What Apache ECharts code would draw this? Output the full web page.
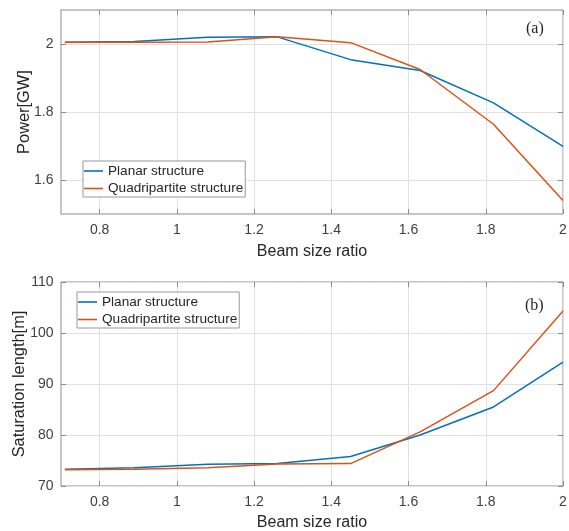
<!DOCTYPE html>
<html>
<head>
<meta charset="utf-8">
<script src="https://cdn.jsdelivr.net/npm/echarts@6/dist/echarts.min.js"></script>
<style>
html,body{margin:0;padding:0;background:#fff;}
#chart{width:569px;height:531px;}
</style>
</head>
<body>
<div id="chart"></div>
<script>
// ---- data ----
const beamRatio = [0.71, 0.89, 1.08, 1.26, 1.45, 1.63, 1.82, 2.0];
const planarPower = [2.005, 2.007, 2.020, 2.021, 1.954, 1.922, 1.827, 1.699];
const quadPower = [2.005, 2.005, 2.006, 2.021, 2.004, 1.925, 1.764, 1.540];
const planarLength = [73.3, 73.6, 74.25, 74.4, 75.8, 80.0, 85.5, 94.3];
const quadLength = [73.2, 73.3, 73.6, 74.3, 74.4, 80.6, 88.7, 104.3];
const xTicks = [0.8, 1.0, 1.2, 1.4, 1.6, 1.8, 2.0];
const powerTicks = [1.6, 1.8, 2.0];
const lengthTicks = [70, 80, 90, 100, 110];
const seriesNames = ['Planar structure', 'Quadripartite structure'];
const panelLabels = ['(a)', '(b)'];
const xName = 'Beam size ratio';
const yNames = ['Power[GW]', 'Saturation length[m]'];

const pairs = (xs, ys) => xs.map((x, i) => [x, ys[i]]);
const fmt = v => String(+(+v).toFixed(2));

const FONT = "'Liberation Sans', Arial, Helvetica, sans-serif";
const AX = '#8c8c8c';
const TXT = '#262626';
const TICK = '#404040';
const MAJ = '#dedede';
const MIN = '#e6e6e6';
const BLUE = '#0072BD';
const ORANGE = '#D95319';

const grids = [
  {left: 61, right: 6, top: 10, height: 204},
  {left: 61, right: 6, top: 282, height: 204}
];

function mainX(gi, gap) {
  return {
    type: 'value', gridIndex: gi, position: 'bottom', min: 0.7, max: 2,
    name: xName, nameLocation: 'middle', nameGap: gap, nameMoveOverlap: false,
    nameTextStyle: {fontFamily: FONT, fontSize: 16, color: TXT},
    axisLine: {show: false},
    axisTick: {show: true, inside: true, length: 5, lineStyle: {color: AX}, customValues: xTicks},
    axisLabel: {show: true, customValues: xTicks, formatter: fmt, fontFamily: FONT, fontSize: 14, color: TICK, margin: 9},
    splitLine: {show: true, lineStyle: {color: MAJ, width: 1}}
  };
}
function topX(gi) {
  return {
    type: 'value', gridIndex: gi, position: 'top', min: 0.7, max: 2, interval: 0.05,
    axisLine: {show: false},
    axisTick: {show: true, inside: true, length: 5, lineStyle: {color: AX}, customValues: xTicks},
    axisLabel: {show: false},
    splitLine: {show: true, lineStyle: {color: MIN, width: 1, type: [1, 2]}}
  };
}
function legendAt(left, top) {
  return {
    left: left, top: top, orient: 'vertical', data: seriesNames, icon: 'rect',
    backgroundColor: '#fff', borderColor: '#999', borderWidth: 1, borderRadius: 0,
    padding: [3, 2, 1.5, 1], itemWidth: 19, itemHeight: 1.6, itemGap: 3.5,
    textStyle: {fontFamily: FONT, fontSize: 13.6, color: TXT, lineHeight: 14}
  };
}

const option = {
  animation: false,
  backgroundColor: '#fff',
  title: [
    {text: panelLabels[0], left: 526, top: 21, padding: 0,
     textStyle: {fontFamily: "'Liberation Serif', 'Times New Roman', serif", fontSize: 16, fontWeight: 'normal', color: TXT}},
    {text: panelLabels[1], left: 525, top: 298, padding: 0,
     textStyle: {fontFamily: "'Liberation Serif', 'Times New Roman', serif", fontSize: 16, fontWeight: 'normal', color: TXT}}
  ],
  grid: grids.map(g => Object.assign({show: true, borderColor: AX, borderWidth: 1, backgroundColor: 'transparent', outerBoundsMode: 'none', containLabel: false}, g)),
  legend: [legendAt(83, 161), legendAt(77, 292)],
  xAxis: [mainX(0, 30), topX(0), mainX(1, 29), topX(1)],
  yAxis: [
    {type: 'value', gridIndex: 0, position: 'left', min: 1.5, max: 2.1,
     name: yNames[0], nameLocation: 'middle', nameGap: 28.5, nameMoveOverlap: false,
     nameTextStyle: {fontFamily: FONT, fontSize: 16.4, color: TXT},
     axisLine: {show: false},
     axisTick: {show: true, inside: true, length: 5, lineStyle: {color: AX}, customValues: powerTicks},
     axisLabel: {show: true, customValues: powerTicks, formatter: fmt, fontFamily: FONT, fontSize: 14, color: TICK, margin: 7.5},
     splitLine: {show: true, lineStyle: {color: MAJ, width: 1}}},
    {type: 'value', gridIndex: 0, position: 'right', min: 1.5, max: 2.1, interval: 0.05,
     axisLine: {show: false},
     axisTick: {show: true, inside: true, length: 5, lineStyle: {color: AX}, customValues: powerTicks},
     axisLabel: {show: false},
     splitLine: {show: true, lineStyle: {color: MIN, width: 1, type: [1, 2]}}},
    {type: 'value', gridIndex: 1, position: 'left', min: 70, max: 110, interval: 10,
     name: yNames[1], nameLocation: 'middle', nameGap: 33.5, nameMoveOverlap: false,
     nameTextStyle: {fontFamily: FONT, fontSize: 16.4, color: TXT},
     axisLine: {show: false},
     axisTick: {show: true, inside: true, length: 5, lineStyle: {color: AX}},
     axisLabel: {show: true, formatter: fmt, fontFamily: FONT, fontSize: 14, color: TICK, margin: 7.5},
     splitLine: {show: true, lineStyle: {color: MAJ, width: 1}}},
    {type: 'value', gridIndex: 1, position: 'right', min: 70, max: 110, interval: 2,
     axisLine: {show: false},
     axisTick: {show: true, inside: true, length: 5, lineStyle: {color: AX}, customValues: lengthTicks},
     axisLabel: {show: false},
     splitLine: {show: true, lineStyle: {color: MIN, width: 1, type: [1, 2]}}}
  ],
  series: [
    {name: seriesNames[0], type: 'line', xAxisIndex: 0, yAxisIndex: 0, data: pairs(beamRatio, planarPower),
     symbol: 'none', color: BLUE, lineStyle: {width: 1.5, color: BLUE}, z: 5},
    {name: seriesNames[1], type: 'line', xAxisIndex: 0, yAxisIndex: 0, data: pairs(beamRatio, quadPower),
     symbol: 'none', color: ORANGE, lineStyle: {width: 1.5, color: ORANGE}, z: 5},
    {name: seriesNames[0], type: 'line', xAxisIndex: 2, yAxisIndex: 2, data: pairs(beamRatio, planarLength),
     symbol: 'none', color: BLUE, lineStyle: {width: 1.5, color: BLUE}, z: 5},
    {name: seriesNames[1], type: 'line', xAxisIndex: 2, yAxisIndex: 2, data: pairs(beamRatio, quadLength),
     symbol: 'none', color: ORANGE, lineStyle: {width: 1.5, color: ORANGE}, z: 5}
  ]
};

const chart = echarts.init(document.getElementById('chart'), null, {renderer: 'canvas'});
chart.setOption(option);
</script>
</body>
</html>
